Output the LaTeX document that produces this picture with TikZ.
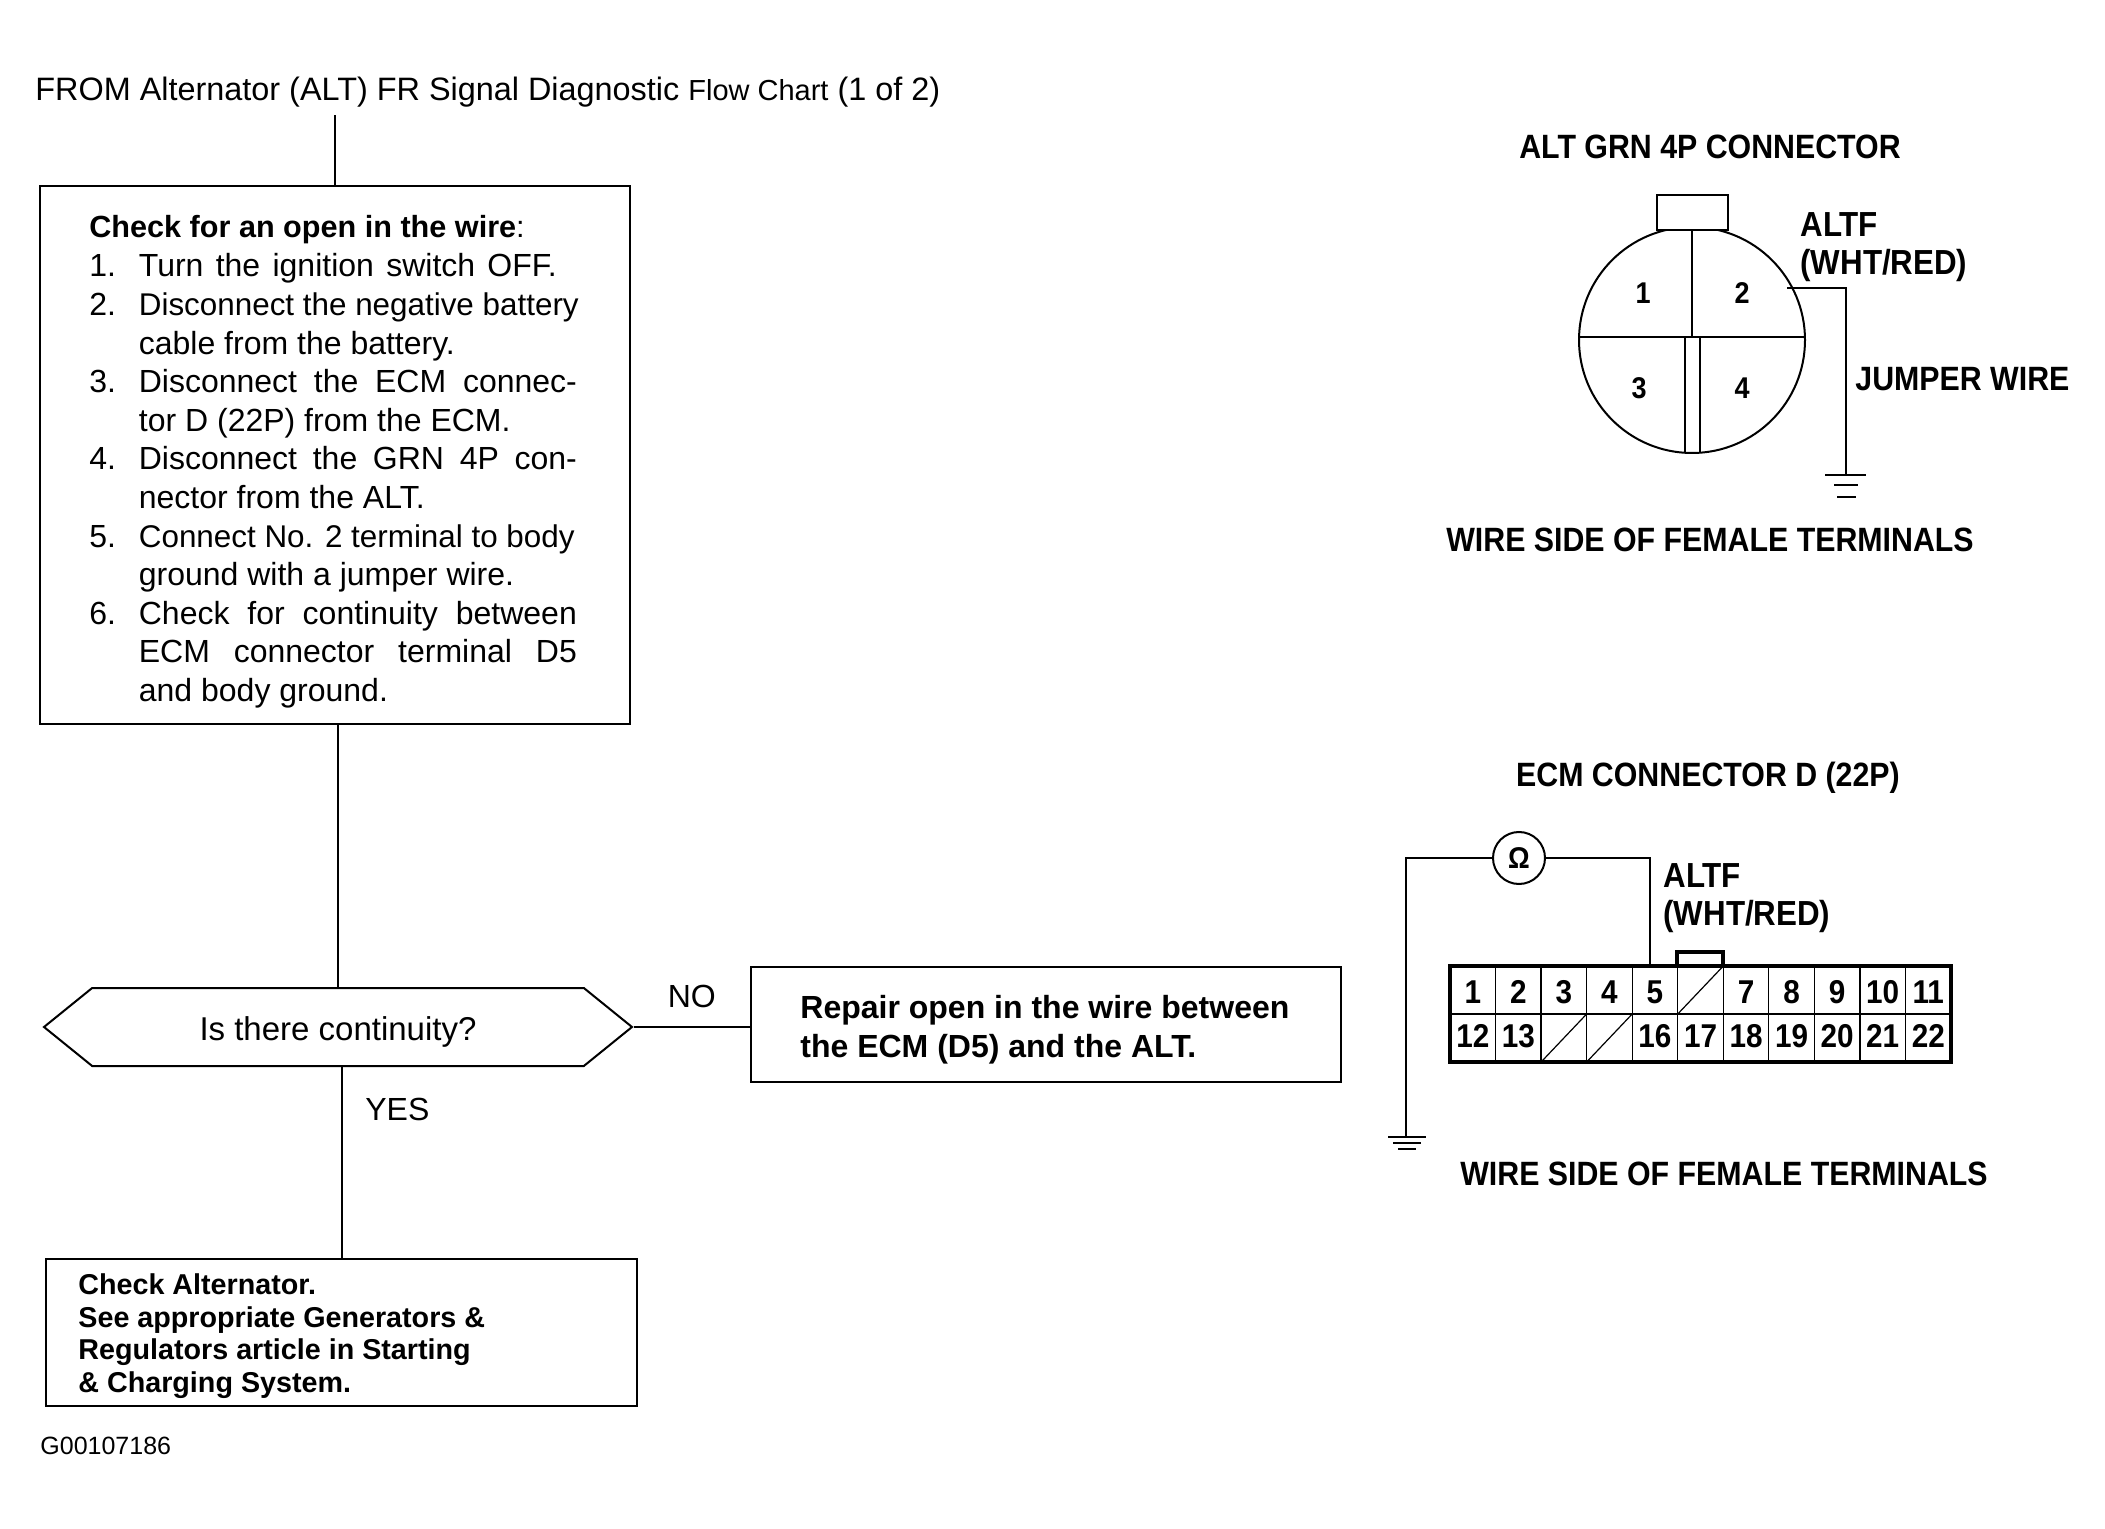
\documentclass[tikz,border=0pt]{standalone}
\usepackage{fontspec}
\setmainfont{Liberation Sans}
\newfontfamily\narrowbold[FakeStretch=0.9]{Liberation Sans Bold}
\usetikzlibrary{shapes.symbols}
% Line set out to the full measure of the check list
\newcommand{\fullline}[1]{\makebox[219pt][s]{#1}}

\begin{document}
\begin{tikzpicture}[
		x=0.5pt, y=-0.5pt,
		% Flow chart boxes
		flowbox/.style={
				rectangle, draw=black, line width=1pt, fill=white, inner sep=0pt,
				align=left, text width=#1
			},
		% Decision shape with a point at each end
		decision/.style={
				signal, signal to=east and west, signal pointer angle=78,
				draw=black, line width=1pt, minimum width=294pt, minimum height=39pt,
				inner sep=0pt
			},
		% Plain and bold labels
		lab/.style={font=\fontsize{16}{19.3}\selectfont, inner sep=0pt, align=left},
		connlab/.style={font=\fontsize{16.85}{19.3}\narrowbold, inner sep=0pt, align=left},
		pinlab/.style={font=\fontsize{15}{18}\narrowbold, inner sep=0pt},
		% ECM terminal cell
		cell/.style={
				rectangle, draw=black, line width=0.6pt, minimum width=22.75pt,
				minimum height=24pt, inner sep=0pt, font=\fontsize{16.5}{18}\narrowbold
			},
		% Lines
		wire/.style={draw=black, line width=1pt},
		thinwire/.style={draw=black, line width=0.6pt}
	]
	\useasboundingbox (0,0) rectangle (2105,1529);

	% ==========================================
	% 1. FLOW CHART (LEFT)
	% ==========================================

	\node[lab, anchor=west] (fromtitle) at (35, 92) {\fontsize{16.2}{19}\selectfont FROM Alternator (ALT) FR Signal Diagnostic {\fontsize{14.5}{19}\selectfont Flow Chart} (1 of 2)};

	% Block 1: Continuity check (Y=185..723)
	\node[flowbox=295pt, minimum height=269pt, anchor=north west] (checkbox) at (39, 185) {};
	\node[lab, anchor=north west] (checktext) at (89, 215) {{\fontsize{15.3}{19.3}\selectfont\textbf{Check for an open in the wire}:}\\[2pt]
		\begin{tabular}{@{}l@{\hspace{11.4pt}}l@{}}
			1. & \makebox[209pt][s]{Turn the ignition switch OFF.}\\
			2. & {\fontsize{15.7}{19.3}\selectfont Disconnect the negative battery}\\
			   & cable from the battery.\\
			3. & \fullline{Disconnect the ECM connec-}\\
			   & tor D (22P) from the ECM.\\
			4. & \fullline{Disconnect the GRN 4P con-}\\
			   & nector from the ALT.\\
			5. & {\fontsize{15.7}{19.3}\selectfont Connect No. 2 terminal to body}\\
			   & ground with a jumper wire.\\
			6. & \fullline{Check for continuity between}\\
			   & \fullline{ECM connector terminal D5}\\
			   & and body ground.
		\end{tabular}};

	% Block 2: Decision (Y=1027)
	\node[decision] (continuity) at (338, 1027) {};
	\node[lab, font=\fontsize{16.5}{18}\selectfont] (conttext) at ([yshift=-2.7pt]continuity.center) {Is there continuity?};

	% Block 3: Repair result
	\node[flowbox=295pt, minimum height=57.5pt, anchor=north west] (repairbox) at (750, 966) {};
	\node[lab, anchor=west] (repairtext) at (800, 1030) {\textbf{Repair open in the wire between}\\\textbf{the ECM (D5) and the ALT.}};

	% Block 4: Alternator result
	\node[flowbox=295.5pt, minimum height=73.5pt, anchor=north west] (altbox) at (45, 1258) {};
	\node[lab, anchor=west, font=\fontsize{14.35}{16.3}\selectfont] (alttext) at (78, 1336) {\textbf{Check Alternator.}\\\textbf{See appropriate Generators \&}\\\textbf{Regulators article in Starting}\\\textbf{\& Charging System.}};

	\node[lab, anchor=west, font=\fontsize{12.5}{14}\selectfont] (figcode) at (40, 1446) {G00107186};

	% Flow lines
	\draw[wire, shorten >=4pt] (checkbox.north) -- (checkbox.north |- fromtitle.south);
	\draw[wire] (continuity.north |- checkbox.south) -- (continuity.north);
	\draw[wire] (continuity.east) -- node[lab, above=9pt] {NO} (repairbox.west |- continuity.east);
	\draw[wire] (altbox.north |- continuity.south) -- (altbox.north);
	\node[lab, anchor=west] (yeslab) at (365, 1109) {YES};

	% ==========================================
	% 2. ALT GRN 4P CONNECTOR (TOP RIGHT)
	% ==========================================

	\node[connlab] (alttitle) at (1710, 147) {ALT GRN 4P CONNECTOR};
	\node[circle, draw=black, line width=1pt, minimum size=113pt, inner sep=0pt] (altbody) at (1692, 340) {};
	\node[rectangle, draw=black, line width=1pt, fill=white, minimum width=35.5pt, minimum height=17.5pt, inner sep=0pt] (alttab) at (1692, 212.5) {};

	\draw[wire] ([yshift=1.5pt]altbody.west) -- ([yshift=1.5pt]altbody.east);
	\draw[thinwire] (alttab.south) -- ([yshift=1.5pt]altbody.center);
	\draw[thinwire] (1685, 337) -- (1685, 452);
	\draw[wire] (1700, 337) -- (1700, 452);

	\node[pinlab] (pinone) at (1643, 293) {1};
	\node[pinlab] (pintwo) at (1742, 293) {2};
	\node[pinlab] (pinthree) at (1639, 388) {3};
	\node[pinlab] (pinfour) at (1742, 388) {4};

	% Jumper wire down to ground
	\coordinate (altterm) at (1787, 288);
	\coordinate (altgnd) at (1846, 475);
	\draw[thinwire] (altterm) -| (altgnd);
	\draw[wire] (altgnd) ++(-21,0) -- ++(41,0) ++(-32,10) -- ++(24,0) ++(-21,12) -- ++(19,0);

	\node[connlab, anchor=west, font=\fontsize{17.4}{19.3}\narrowbold] (altflab) at (1800, 247) {ALTF\\(WHT/RED)};
	\node[connlab, anchor=west] (jumperlab) at (1855, 379) {JUMPER WIRE};
	\node[connlab] (altside) at (1710, 540) {WIRE SIDE OF FEMALE TERMINALS};

	% ==========================================
	% 3. ECM CONNECTOR D (22P) (BOTTOM RIGHT)
	% ==========================================

	\node[connlab] (ecmtitle) at (1708, 778) {ECM CONNECTOR D (22P)};

	% Terminal cells, upper and lower row
	\foreach \n/\lab in {1/1, 2/2, 3/3, 4/4, 5/5, 6/, 7/7, 8/8, 9/9, 10/10, 11/11}
		\node[cell] (up\n) at ({1450 + (\n - 0.5) * 45.55}, 990) {\raisebox{-6.9pt}[0pt][0pt]{\lab}};
	\foreach \n/\lab in {1/12, 2/13, 3/, 4/, 5/16, 6/17, 7/18, 8/19, 9/20, 10/21, 11/22}
		\node[cell] (low\n) at ({1450 + (\n - 0.5) * 45.55}, 1038) {\raisebox{-4.9pt}[0pt][0pt]{\lab}};

	\draw[thinwire] (up6.south west) -- (up6.north east);
	\draw[thinwire] (low3.south west) -- (low3.north east);
	\draw[thinwire] (low4.south west) -- (low4.north east);

	% Frame and key
	\node[rectangle, draw=black, line width=2.2pt, minimum width=250.5pt, minimum height=48pt, inner sep=0pt] (ecmframe) at (1700.5, 1014) {};
	\node[rectangle, draw=black, line width=1.6pt, minimum width=23pt, minimum height=7pt, inner sep=0pt] (ecmkey) at (1700, 959) {};

	% Ohmmeter between terminal 5 and ground
	\node[circle, draw=black, line width=1pt, fill=white, minimum size=26pt, inner sep=0pt, font=\fontsize{15}{18}\narrowbold] (ohm) at (1519, 858) {Ω};
	\coordinate (ecmgnd) at (1406, 1137);
	\coordinate (ecmterm) at (1650, 966);
	\draw[wire] (ohm.west) -| (ecmgnd);
	\draw[wire] (ohm.east) -| (ecmterm);
	\draw[wire] (ecmgnd) ++(-18,0) -- ++(38,0) ++(-33,6) -- ++(28,0) ++(-23,6) -- ++(18,0);

	\node[connlab, anchor=west, font=\fontsize{17.4}{19.3}\narrowbold] (ecmflab) at (1663, 898) {ALTF\\(WHT/RED)};
	\node[connlab] (ecmside) at (1724, 1174) {WIRE SIDE OF FEMALE TERMINALS};

\end{tikzpicture}
\end{document}
